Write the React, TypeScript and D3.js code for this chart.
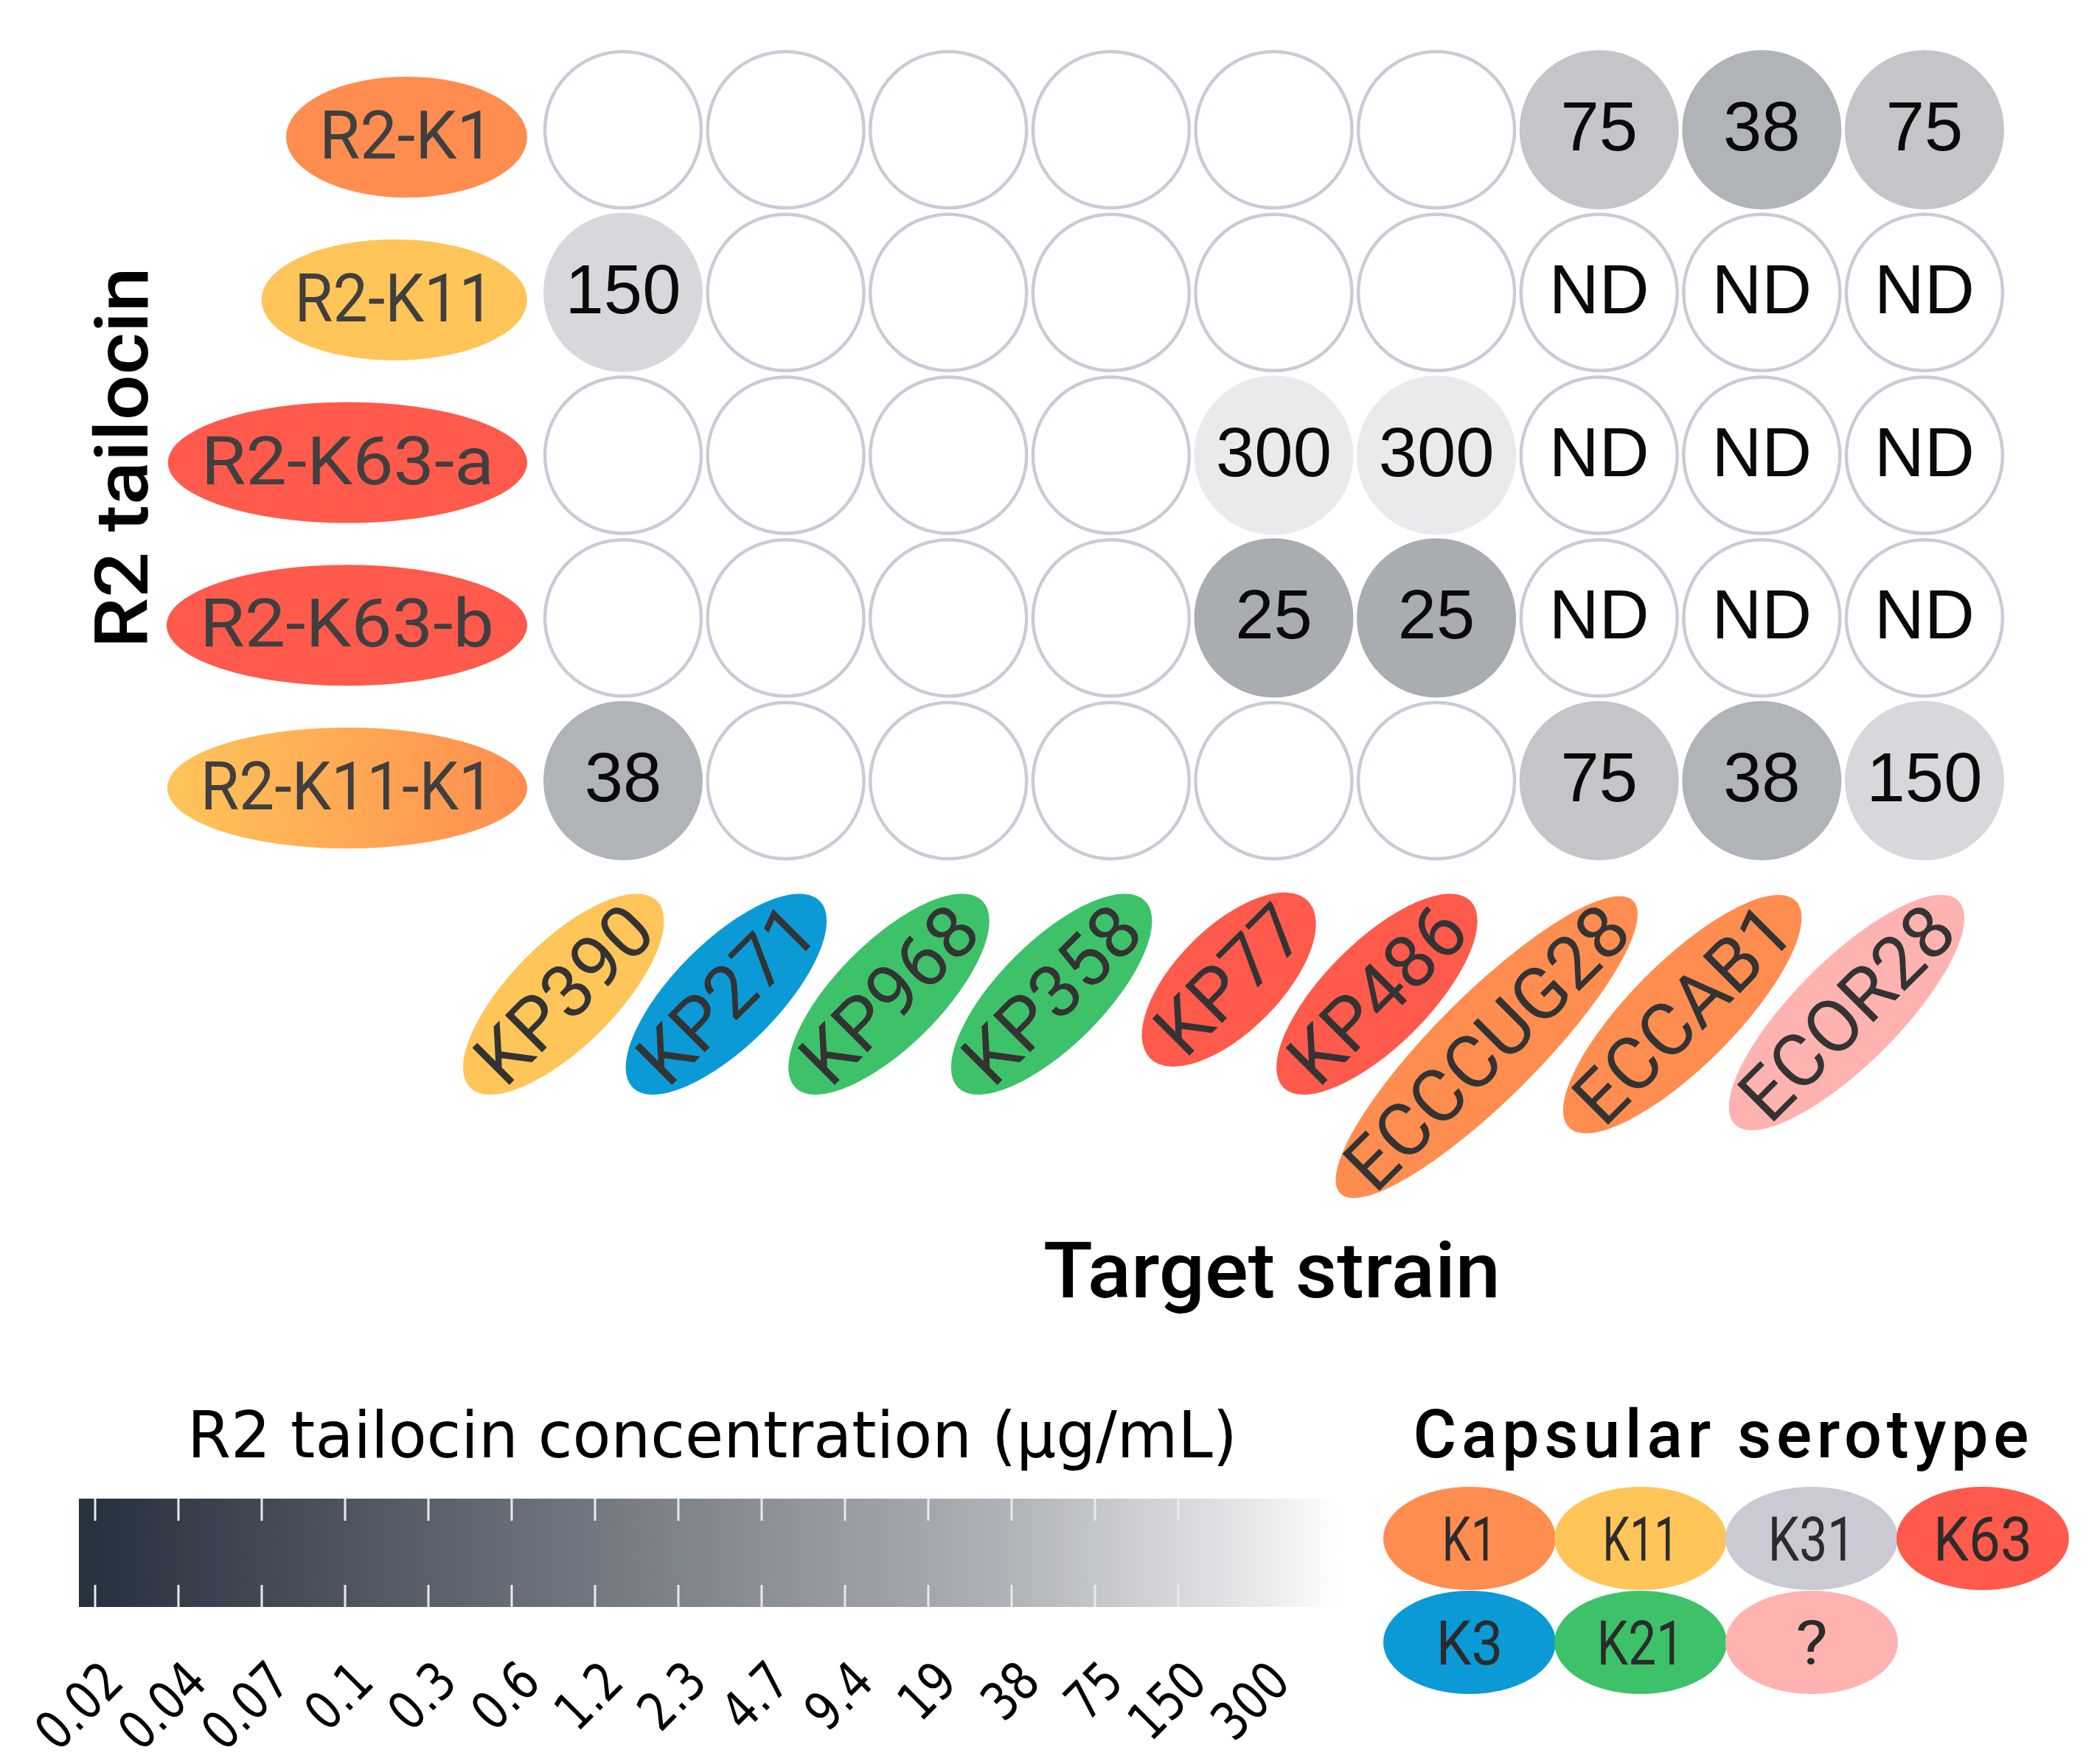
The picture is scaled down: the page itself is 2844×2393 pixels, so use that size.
import React, { useMemo } from 'react';
import * as d3 from 'd3';

const W = 2844;
const H = 2393;

// ---------- data ----------
const tailocins = ['R2-K1', 'R2-K11', 'R2-K63-a', 'R2-K63-b', 'R2-K11-K1'];
const tailocinSerotypes = [['K1'], ['K11'], ['K63'], ['K63'], ['K11', 'K1']];

const strains = ['KP390', 'KP271', 'KP968', 'KP358', 'KP77', 'KP486', 'ECCCUG28', 'ECCAB1', 'ECOR28'];
const strainSerotypes = ['K11', 'K3', 'K21', 'K21', 'K63', 'K63', 'K1', 'K1', '?'];

type Cell = number | 'ND' | null;
const killR2K1: Cell[] = [null, null, null, null, null, null, 75, 38, 75];
const killR2K11: Cell[] = [150, null, null, null, null, null, 'ND', 'ND', 'ND'];
const killR2K63a: Cell[] = [null, null, null, null, 300, 300, 'ND', 'ND', 'ND'];
const killR2K63b: Cell[] = [null, null, null, null, 25, 25, 'ND', 'ND', 'ND'];
const killR2K11K1: Cell[] = [38, null, null, null, null, null, 75, 38, 150];

const concTicks = [0.02, 0.04, 0.07, 0.1, 0.3, 0.6, 1.2, 2.3, 4.7, 9.4, 19, 38, 75, 150, 300];
const concTickLabels = ['0.02', '0.04', '0.07', '0.1', '0.3', '0.6', '1.2', '2.3', '4.7', '9.4', '19', '38', '75', '150', '300'];

const serotypes = ['K1', 'K11', 'K31', 'K63', 'K3', 'K21', '?'];
const serotypeColors = ['#ff8d4f', '#ffc559', '#c9cad4', '#ff5a4b', '#0b9ad6', '#3dc26a', '#ffb3b1'];

// approximate advance widths (em) of a DIN-like face, used to size the labels
const dinAdvance: Record<string, number> = { '1': 0.36, '-': 0.42, R: 0.62, K: 0.6, a: 0.55, b: 0.57 };
const dinWidth = (s: string) => s.split('').reduce((acc, ch) => acc + (dinAdvance[ch] ?? 0.56), 0);

// ---------- component ----------
export default function App() {
  const measure = useMemo(() => {
    const ctx = document.createElement('canvas').getContext('2d') as CanvasRenderingContext2D;
    return (t: string, font: string) => {
      ctx.font = font;
      return ctx.measureText(t).width;
    };
  }, []);

  const rows: Cell[][] = [killR2K1, killR2K11, killR2K63a, killR2K63b, killR2K11K1];

  const colX = d3.scalePoint<string>().domain(strains).range([845, 2610]);
  const rowY = d3.scalePoint<string>().domain(tailocins).range([176, 1059]);
  const R = 107;

  const concIndex = d3
    .scaleLog()
    .domain(concTicks)
    .range(d3.range(concTicks.length))
    .clamp(true);
  const shade = d3
    .scaleLinear<string>()
    .domain([0, 11, 14, 14.95])
    .range(['#28313e', '#b0b3b8', '#e9eaec', '#ffffff'])
    .clamp(true);
  const barX = d3.scaleLinear().domain([0, concTicks.length - 1]).range([129, 1711]);
  const serotypeColor = d3.scaleOrdinal<string, string>().domain(serotypes).range(serotypeColors);

  const barLeft = 107;
  const barRight = 1817;
  const barTop = 2033;
  const barBottom = 2180;
  const stops = d3.range(0, 1.0001, 0.02).map((t) => ({
    offset: t,
    color: shade(barX.invert(barLeft + t * (barRight - barLeft))),
  }));

  const strainFont = '100px Roboto';
  const tickFont = '72px "DejaVu Sans"';

  return (
    <svg
      width={W}
      height={H}
      viewBox={`0 0 ${W} ${H}`}
      style={{ position: 'absolute', left: 0, top: 0, background: '#fff' }}
    >
      <defs>
        <linearGradient id="cbar" x1="0" x2="1" y1="0" y2="0">
          {stops.map((s, i) => (
            <stop key={i} offset={s.offset} stopColor={s.color} />
          ))}
        </linearGradient>
        {tailocinSerotypes.map((st, i) =>
          st.length > 1 ? (
            <linearGradient key={i} id={`rowgrad${i}`} x1="0" x2="1" y1="0" y2="0">
              <stop offset="0" stopColor={serotypeColor(st[0])} />
              <stop offset="1" stopColor={serotypeColor(st[1])} />
            </linearGradient>
          ) : null
        )}
      </defs>
      <rect x={0} y={0} width={W} height={H} fill="#ffffff" />

      {/* y-axis title */}
      <text
        transform="translate(200,621) rotate(-90)"
        textAnchor="middle"
        fontFamily="Roboto"
        fontWeight={500}
        fontSize={100}
        textLength={517}
        lengthAdjust="spacingAndGlyphs"
        fill="#000"
      >
        R2 tailocin
      </text>

      {/* row labels */}
      {tailocins.map((t, i) => {
        const y = rowY(t) as number;
        const w = dinWidth(t) * 92.6;
        const rx = w / 2 + 45;
        const cx = 715 - rx;
        const st = tailocinSerotypes[i];
        const fill = st.length > 1 ? `url(#rowgrad${i})` : serotypeColor(st[0]);
        return (
          <g key={t}>
            <ellipse cx={cx} cy={y + 10} rx={rx} ry={82} fill={fill} />
            <text
              x={cx}
              y={y + 39}
              textAnchor="middle"
              fontFamily="Roboto"
              fontSize={90}
              textLength={w}
              lengthAdjust="spacingAndGlyphs"
              fill="#3f3f3f"
            >
              {t}
            </text>
          </g>
        );
      })}

      {/* cells */}
      {rows.map((row, ri) =>
        row.map((v, ci) => {
          const cx = colX(strains[ci]) as number;
          const cy = rowY(tailocins[ri]) as number;
          const filled = typeof v === 'number';
          return (
            <g key={`${ri}-${ci}`}>
              <circle
                cx={cx}
                cy={cy}
                r={filled ? R + 1 : R - 1}
                fill={filled ? shade(concIndex(v as number)) : '#ffffff'}
                stroke={filled ? 'none' : '#c9ccd7'}
                strokeWidth={4.5}
              />
              {v !== null && (
                <text
                  x={cx}
                  y={cy + 28}
                  textAnchor="middle"
                  fontFamily="'Liberation Sans', Arial, sans-serif"
                  fontSize={94}
                  fill="#0a0a0a"
                >
                  {String(v)}
                </text>
              )}
            </g>
          );
        })
      )}

      {/* strain labels */}
      {strains.map((s, j) => {
        const w = measure(s, strainFont);
        const a = w / 2 + 32;
        const tipX = (colX(s) as number) + 46;
        const tipY = 1222;
        const ang = Math.PI / 4;
        const cx = tipX - a * Math.cos(ang);
        const cy = tipY + a * Math.sin(ang);
        return (
          <g key={s} transform={`translate(${cx},${cy}) rotate(-45)`}>
            <ellipse cx={0} cy={0} rx={a} ry={71} fill={serotypeColor(strainSerotypes[j])} />
            <text x={0} y={35} textAnchor="middle" fontFamily="Roboto" fontSize={100} fill="#333">
              {s}
            </text>
          </g>
        );
      })}

      {/* x-axis title */}
      <text
        x={1725}
        y={1760}
        textAnchor="middle"
        fontFamily="Roboto"
        fontWeight={500}
        fontSize={106}
        textLength={620}
        lengthAdjust="spacingAndGlyphs"
        fill="#000"
      >
        Target strain
      </text>

      {/* colour bar */}
      <text
        x={966}
        y={1977}
        textAnchor="middle"
        fontFamily="'DejaVu Sans'"
        fontSize={88}
        textLength={1424}
        lengthAdjust="spacingAndGlyphs"
        fill="#000"
      >
        R2 tailocin concentration (µg/mL)
      </text>
      <rect x={barLeft} y={barTop} width={barRight - barLeft} height={barBottom - barTop} fill="url(#cbar)" />
      {concTicks.map((c, i) => {
        const x = barX(i);
        return (
          <g key={`t${i}`}>
            <line x1={x} x2={x} y1={barTop} y2={barTop + 30} stroke="#e8eaee" strokeWidth={3} />
            <line x1={x} x2={x} y1={barBottom - 30} y2={barBottom} stroke="#e8eaee" strokeWidth={3} />
          </g>
        );
      })}
      {concTickLabels.map((lab, i) => {
        const x = barX(i) + 42;
        const y = 2285;
        const w = measure(lab, tickFont) * 0.82;
        return (
          <text
            key={`l${i}`}
            transform={`translate(${x},${y}) rotate(-45)`}
            textAnchor="end"
            fontFamily="'DejaVu Sans'"
            fontSize={72}
            textLength={w}
            lengthAdjust="spacingAndGlyphs"
            fill="#000"
          >
            {lab}
          </text>
        );
      })}

      {/* serotype legend */}
      <text
        x={2334}
        y={1977}
        textAnchor="middle"
        fontFamily="Roboto"
        fontWeight={500}
        fontSize={90}
        textLength={835}
        lengthAdjust="spacing"
        fill="#000"
      >
        Capsular serotype
      </text>
      {serotypes.map((s, k) => {
        const col = k < 4 ? k : k - 4;
        const row = k < 4 ? 0 : 1;
        const cx = 1993 + col * 232;
        const cy = 2087 + row * 141;
        return (
          <g key={`s${s}`}>
            <ellipse cx={cx} cy={cy} rx={117} ry={70} fill={serotypeColor(s)} />
            <text
              x={cx}
              y={cy + 30}
              textAnchor="middle"
              fontFamily="Roboto"
              fontSize={84}
              textLength={dinWidth(s) * 78}
              lengthAdjust="spacingAndGlyphs"
              fill="#2b2b2b"
            >
              {s}
            </text>
          </g>
        );
      })}
    </svg>
  );
}
